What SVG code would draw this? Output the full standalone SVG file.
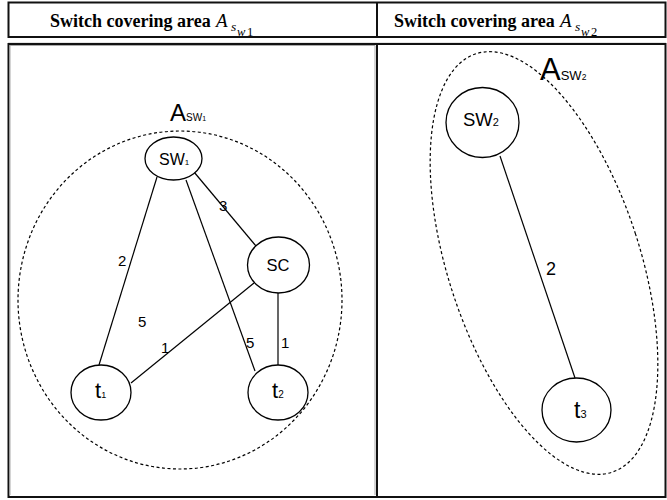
<svg xmlns="http://www.w3.org/2000/svg" width="667" height="500" viewBox="0 0 667 500">
<style>
.hd{font-family:"Liberation Serif",serif;font-weight:bold;font-size:18px;fill:#000}
.mi{font-family:"Liberation Serif",serif;font-style:italic;fill:#000}
.mr{font-family:"Liberation Serif",serif;fill:#000}
.sans{font-family:"Liberation Sans",Arial,sans-serif;fill:#000}
.node{fill:#fff;stroke:#000;stroke-width:1.3}
.edge{stroke:#000;stroke-width:1.2;fill:none}
.area{fill:none;stroke:#000;stroke-width:1.2;stroke-dasharray:3 2.5}
.lbl{font-family:"Liberation Sans",Arial,sans-serif;font-size:15px;fill:#000}
</style>
<rect width="667" height="500" fill="#fff"/>
<g id="table">
<rect x="8.5" y="2.5" width="657" height="34.5" fill="none" stroke="#111" stroke-width="2"/>
<line x1="377" y1="2.5" x2="377" y2="37" stroke="#111" stroke-width="2"/>
<line x1="8" y1="43.5" x2="666" y2="43.5" stroke="#999" stroke-width="1.5"/>
<rect x="8.5" y="44" width="657" height="453" fill="none" stroke="#111" stroke-width="2"/>
<line x1="377" y1="44" x2="377" y2="497" stroke="#111" stroke-width="2"/>
<line x1="10" y1="45.5" x2="375" y2="45.5" stroke="#aaa" stroke-width="1"/>
<line x1="10" y1="45.5" x2="10" y2="495" stroke="#aaa" stroke-width="1"/>
<line x1="375" y1="45.5" x2="375" y2="495" stroke="#aaa" stroke-width="1"/>
</g>
<g id="header1">
<text class="hd" x="50" y="27">Switch covering area</text>
<text class="mi" x="216" y="27" font-size="19">A</text>
<text class="mi" x="231" y="30.5" font-size="13.5">s</text>
<text class="mi" x="237" y="35.5" font-size="12.5">w</text>
<text class="mr" x="247" y="35.5" font-size="12.5">1</text>
</g>
<g id="header2">
<text class="hd" x="394" y="27">Switch covering area</text>
<text class="mi" x="560" y="27" font-size="19">A</text>
<text class="mi" x="575" y="30.5" font-size="13.5">s</text>
<text class="mi" x="581" y="35.5" font-size="12.5">w</text>
<text class="mr" x="591" y="35.5" font-size="12.5">2</text>
</g>
<g id="connectors">
<line class="edge" x1="157" y1="177" x2="99" y2="365"/>
<line class="edge" x1="194" y1="172" x2="256" y2="246"/>
<line class="edge" x1="186" y1="180" x2="255" y2="371"/>
<line class="edge" x1="254" y1="283" x2="131" y2="383"/>
<line class="edge" x1="278" y1="293" x2="278" y2="365"/>
<line class="edge" x1="500" y1="156" x2="575" y2="378"/>
</g>
<g id="edge-labels">
<text class="lbl" x="118" y="266">2</text>
<text class="lbl" x="219" y="211">3</text>
<text class="lbl" x="138" y="327">5</text>
<text class="lbl" x="161" y="353">1</text>
<text class="lbl" x="246" y="348">5</text>
<text class="lbl" x="281" y="348">1</text>
<text class="sans" x="546" y="275" font-size="18">2</text>
</g>
<g id="area1">
<ellipse class="area" cx="180" cy="300" rx="162" ry="169"/>
<text class="sans" x="170" y="121" font-size="24">A<tspan font-size="10">SW</tspan><tspan font-size="7">1</tspan></text>
</g>
<g id="area2">
<ellipse class="area" cx="544" cy="263" rx="96" ry="220" transform="rotate(-18 544 263)"/>
<text class="sans" x="540" y="80" font-size="31">A<tspan font-size="13">SW</tspan><tspan font-size="8.5">2</tspan></text>
</g>
<g id="sw1">
<ellipse class="node" cx="173.5" cy="158.5" rx="28.5" ry="21.5"/>
<text class="sans" x="159" y="165" font-size="16">SW<tspan font-size="8">1</tspan></text>
</g>
<g id="sc">
<ellipse class="node" cx="278.5" cy="265" rx="31" ry="28"/>
<text class="sans" x="278" y="271" font-size="16.5" text-anchor="middle">SC</text>
</g>
<g id="t1">
<ellipse class="node" cx="101" cy="392.5" rx="30" ry="27.5"/>
<text class="sans" x="95" y="398" font-size="22">t<tspan font-size="9">1</tspan></text>
</g>
<g id="t2">
<ellipse class="node" cx="278" cy="392.5" rx="30" ry="27.5"/>
<text class="sans" x="272" y="398" font-size="22">t<tspan font-size="10">2</tspan></text>
</g>
<g id="sw2">
<ellipse class="node" cx="482.5" cy="122.5" rx="36.5" ry="35"/>
<text class="sans" x="463" y="126" font-size="18.5">SW<tspan font-size="11">2</tspan></text>
</g>
<g id="t3">
<ellipse class="node" cx="576.5" cy="410" rx="34.5" ry="32"/>
<text class="sans" x="574" y="418" font-size="23">t<tspan font-size="11">3</tspan></text>
</g>
</svg>
